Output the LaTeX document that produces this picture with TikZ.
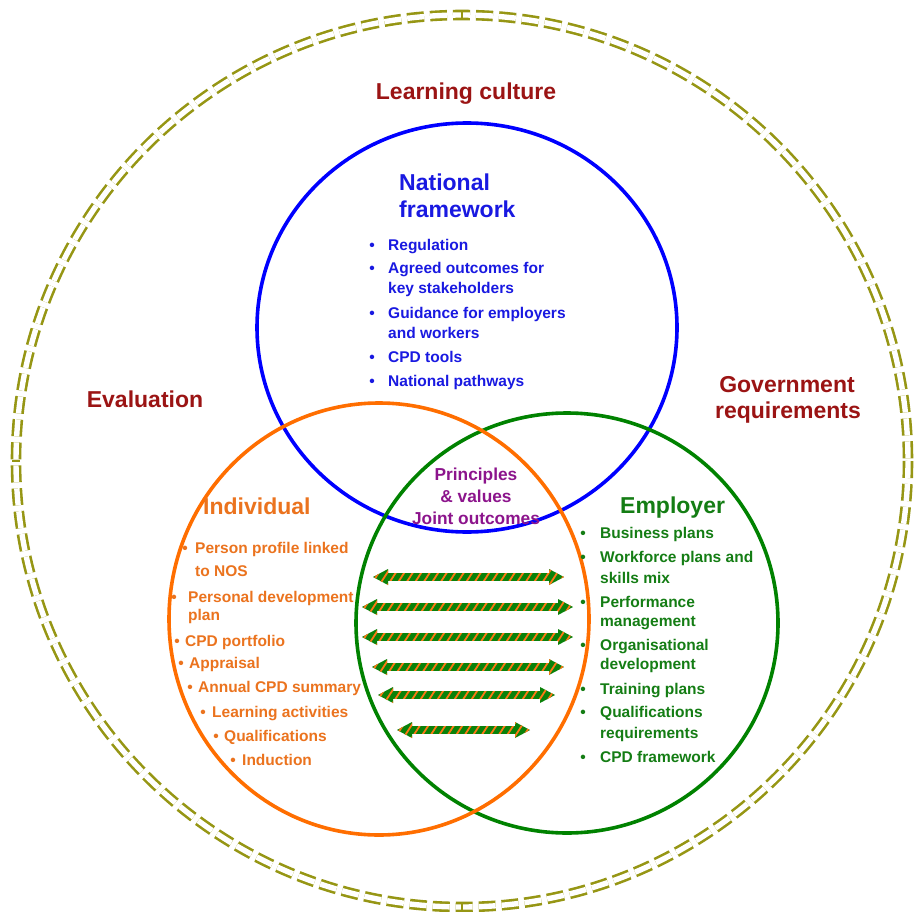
\documentclass[tikz,border=0pt]{standalone}
\usepackage{fontspec}
\setmainfont{Liberation Sans}
\usetikzlibrary{calc}

\definecolor{ringolive}{RGB}{150,150,20}
\definecolor{labelred}{RGB}{155,20,20}
\definecolor{natblue}{RGB}{0,0,255}
\definecolor{natbluetext}{RGB}{25,25,225}
\definecolor{indorange}{RGB}{255,110,0}
\definecolor{indorangetext}{RGB}{235,115,30}
\definecolor{empgreen}{RGB}{0,130,0}
\definecolor{empgreentext}{RGB}{20,125,20}
\definecolor{jointpurple}{RGB}{140,20,140}
\definecolor{arrowgreen}{RGB}{10,130,10}
\definecolor{arroworange}{RGB}{255,120,20}

% one bulleted line: name, colour, bullet x, text x, baseline y, text
\newcommand{\listentry}[6]{%
  \node[dotmark, text=#2] (#1-dot) at (#3,#5) {\textbullet};
  \node[itemtext, text=#2] (#1) at (#4,#5) {#6};}
% continuation line without a bullet: name, colour, text x, baseline y, text
\newcommand{\listcont}[5]{%
  \node[itemtext, text=#2] (#1) at (#3,#4) {#5};}

% double-headed striped block arrow between two named coordinates
\newcommand{\stripedarrow}[2]{%
  \fill[arrowgreen] (#1) -- ($(#1)+(15,-8)$) -- ($(#1)+(15,-3.8)$)
    -- ($(#2)+(-15,-3.8)$) -- ($(#2)+(-15,-8)$) -- (#2)
    -- ($(#2)+(-15,8)$) -- ($(#2)+(-15,3.8)$) -- ($(#1)+(15,3.8)$)
    -- ($(#1)+(15,8)$) -- cycle;
  \begin{scope}
    \clip (#1) -- ($(#1)+(15,-8)$) -- ($(#1)+(15,-3.8)$)
      -- ($(#2)+(-15,-3.8)$) -- ($(#2)+(-15,-8)$) -- (#2)
      -- ($(#2)+(-15,8)$) -- ($(#2)+(-15,3.8)$) -- ($(#1)+(15,3.8)$)
      -- ($(#1)+(15,8)$) -- cycle;
    \foreach \k in {0,...,27}
      \draw[arroworange, line width=1.8pt] ($(#1)+(\k*8.5-12,10)$) -- ++(13,-20);
  \end{scope}}

\begin{document}
\begin{tikzpicture}[x=1pt, y=-1pt,
  outerlabel/.style={font=\fontsize{23}{26}\selectfont\bfseries, text=labelred, inner sep=0pt, align=center},
  heading/.style={font=\fontsize{23}{27}\selectfont\bfseries, inner sep=0pt, anchor=base west},
  itemtext/.style={font=\fontsize{15.5}{18}\selectfont\bfseries, inner sep=0pt, anchor=base west},
  dotmark/.style={font=\fontsize{15.5}{18}\selectfont\bfseries, inner sep=0pt, anchor=base},
  jointtext/.style={font=\fontsize{17.3}{22}\selectfont\bfseries, text=jointpurple, inner sep=0pt, anchor=base},
  ring/.style={draw=ringolive, line width=2.6pt, double=white, double distance=5.4pt,
    dash pattern=on 17pt off 6pt},
  venn/.style={line width=3.6pt}]

\useasboundingbox (0,0) rectangle (923,912);
\fill[white] (0,0) rectangle (923,912);

% outer double dashed ring
\coordinate (ringc) at (462,461);
\draw[ring] (ringc) circle[radius=446];
\draw[ringolive, line width=2pt] ($(ringc)+(0,-450)$) -- ($(ringc)+(0,-442)$);
\draw[ringolive, line width=2pt] ($(ringc)+(-450,0)$) -- ($(ringc)+(-442,0)$);
\draw[ringolive, line width=2pt] ($(ringc)+(0,450)$) -- ($(ringc)+(0,442)$);

% the three overlapping circles
\draw[venn, natblue] (467,327.5) ellipse[x radius=210, y radius=204.5];
\draw[venn, empgreen] (567,623) ellipse[x radius=211, y radius=210];
\draw[venn, indorange] (379,619) ellipse[x radius=210, y radius=216];

% labels outside the circles
\node[outerlabel, anchor=base] (culture) at (466,100) {Learning culture};
\node[outerlabel, anchor=base] (evaluation) at (145,407) {Evaluation};
\node[outerlabel, anchor=base] (government) at (787,392) {Government};
\node[outerlabel, anchor=base] (requirements) at (788,418) {requirements};

% national framework
\node[heading, text=natbluetext] (nathead1) at (399,190) {National};
\node[heading, text=natbluetext] (nathead2) at (399,217) {framework};
\listentry{nat1}{natbluetext}{372}{388}{250.5}{Regulation}
\listentry{nat2}{natbluetext}{372}{388}{273.5}{Agreed outcomes for}
\listcont{nat2b}{natbluetext}{388}{293.5}{key stakeholders}
\listentry{nat3}{natbluetext}{372}{388}{318.5}{Guidance for employers}
\listcont{nat3b}{natbluetext}{388}{338.5}{and workers}
\listentry{nat4}{natbluetext}{372}{388}{362.5}{CPD tools}
\listentry{nat5}{natbluetext}{372}{388}{386.5}{National pathways}

% shared centre
\node[jointtext] (joint1) at (476,480) {Principles};
\node[jointtext] (joint2) at (476,502) {\& values};
\node[jointtext] (joint3) at (476,524) {Joint outcomes};

% individual
\node[heading, text=indorangetext] (indhead) at (203,514) {Individual};
\listentry{ind1}{indorangetext}{185}{195}{553.5}{Person profile linked}
\listcont{ind1b}{indorangetext}{195}{576.5}{to NOS}
\listentry{ind2}{indorangetext}{174}{188}{602.5}{Personal development}
\listcont{ind2b}{indorangetext}{188}{620.5}{plan}
\listentry{ind3}{indorangetext}{177}{185}{646.5}{CPD portfolio}
\listentry{ind4}{indorangetext}{181}{189}{668.5}{Appraisal}
\listentry{ind5}{indorangetext}{190}{198}{692.5}{Annual CPD summary}
\listentry{ind6}{indorangetext}{203}{212}{717.5}{Learning activities}
\listentry{ind7}{indorangetext}{216}{224}{741.5}{Qualifications}
\listentry{ind8}{indorangetext}{233}{242}{765.5}{Induction}

% employer
\node[heading, text=empgreentext] (emphead) at (620,513) {Employer};
\listentry{emp1}{empgreentext}{583}{600}{538.5}{Business plans}
\listentry{emp2}{empgreentext}{583}{600}{562.5}{Workforce plans and}
\listcont{emp2b}{empgreentext}{600}{583.5}{skills mix}
\listentry{emp3}{empgreentext}{583}{600}{607.5}{Performance}
\listcont{emp3b}{empgreentext}{600}{626.5}{management}
\listentry{emp4}{empgreentext}{583}{600}{650.5}{Organisational}
\listcont{emp4b}{empgreentext}{600}{669.5}{development}
\listentry{emp5}{empgreentext}{583}{600}{694.5}{Training plans}
\listentry{emp6}{empgreentext}{583}{600}{717.5}{Qualifications}
\listcont{emp6b}{empgreentext}{600}{738.5}{requirements}
\listentry{emp7}{empgreentext}{583}{600}{762.5}{CPD framework}

% links between individual and employer
\coordinate (a1l) at (373,577); \coordinate (a1r) at (564,577);
\coordinate (a2l) at (362,607); \coordinate (a2r) at (573,607);
\coordinate (a3l) at (362,637); \coordinate (a3r) at (573,637);
\coordinate (a4l) at (372,667); \coordinate (a4r) at (564,667);
\coordinate (a5l) at (378,695); \coordinate (a5r) at (555,695);
\coordinate (a6l) at (397,730); \coordinate (a6r) at (530,730);
\stripedarrow{a1l}{a1r}
\stripedarrow{a2l}{a2r}
\stripedarrow{a3l}{a3r}
\stripedarrow{a4l}{a4r}
\stripedarrow{a5l}{a5r}
\stripedarrow{a6l}{a6r}

\end{tikzpicture}
\end{document}
